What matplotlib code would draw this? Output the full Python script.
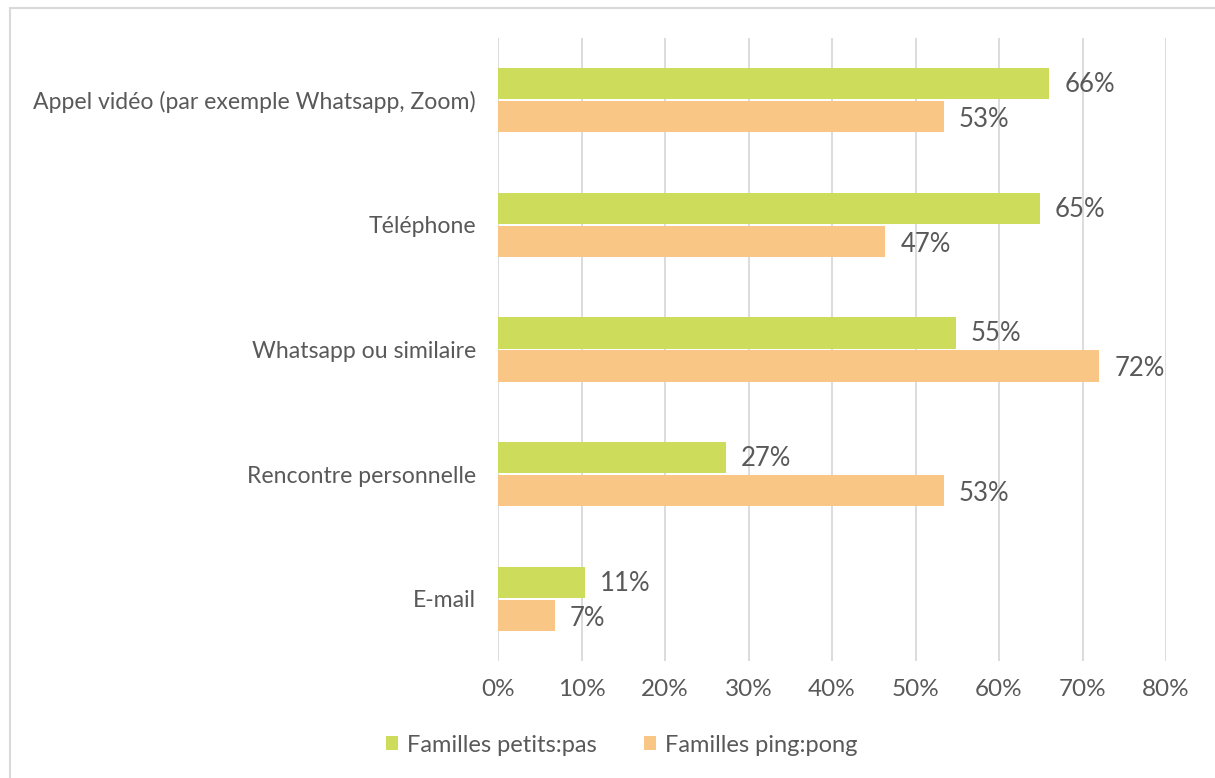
import numpy as np
import matplotlib.pyplot as plt
from matplotlib.patches import Rectangle

# categories top to bottom
categories = ['Appel vidéo (par exemple Whatsapp, Zoom)', 'Téléphone',
              'Whatsapp ou similaire', 'Rencontre personnelle', 'E-mail']
petits_pas = [66.0, 64.9, 54.8, 27.3, 10.4]
ping_pong = [53.4, 46.4, 72.0, 53.4, 6.8]
labels_petits = ['66%', '65%', '55%', '27%', '11%']
labels_ping = ['53%', '47%', '72%', '53%', '7%']
ticks = [0, 10, 20, 30, 40, 50, 60, 70, 80]

green = '#cddc5a'
orange = '#f9c686'
txt = '#595959'

plt.rcParams['font.family'] = ['Lato', 'DejaVu Sans']

fig = plt.figure(figsize=(12.15, 7.78), dpi=100)
ax = fig.add_axes([498 / 1215, 1 - 661 / 778, 668 / 1215, 623 / 778])

y = np.arange(len(categories))
h = 0.25
ax.barh(y - h / 2 - 0.008, petits_pas, height=h, color=green, zorder=2,
        label='Familles petits:pas')
ax.barh(y + h / 2 + 0.008, ping_pong, height=h, color=orange, zorder=2,
        label='Familles ping:pong')

for i in range(len(categories)):
    ax.text(petits_pas[i] + 1.8, y[i] - h / 2, labels_petits[i], va='center',
            ha='left', fontsize=18.5, color=txt)
    ax.text(ping_pong[i] + 1.8, y[i] + h / 2 + 0.03, labels_ping[i], va='center',
            ha='left', fontsize=18.5, color=txt)

ax.set_ylim(len(categories) - 0.5, -0.5)
ax.set_xlim(0, 80)
ax.set_yticks(y)
ax.set_yticklabels(categories, fontsize=16.6, color=txt)
ax.set_xticks(ticks)
ax.set_xticklabels([f'{t}%' for t in ticks], fontsize=17.5, color=txt)
ax.tick_params(length=0, axis='x', pad=13)
ax.tick_params(length=0, axis='y', pad=16)
ax.grid(axis='x', color='#d9d9d9', linewidth=1.3, zorder=0)
for s in ax.spines.values():
    s.set_visible(False)

ax.legend(loc='center', bbox_to_anchor=(622 / 1215, 1 - 745 / 778),
          bbox_transform=fig.transFigure, ncol=2, frameon=False,
          fontsize=17, labelcolor=txt, handlelength=0.5, handleheight=0.5,
          handletextpad=0.4, columnspacing=2.0)

fig.patches.append(Rectangle((10 / 1215, -0.01), 1.0, 1 - 8 / 778 + 0.01,
                             transform=fig.transFigure, fill=False,
                             edgecolor='#d9d9d9', linewidth=1.5))

fig.savefig('out.png', dpi=100)
